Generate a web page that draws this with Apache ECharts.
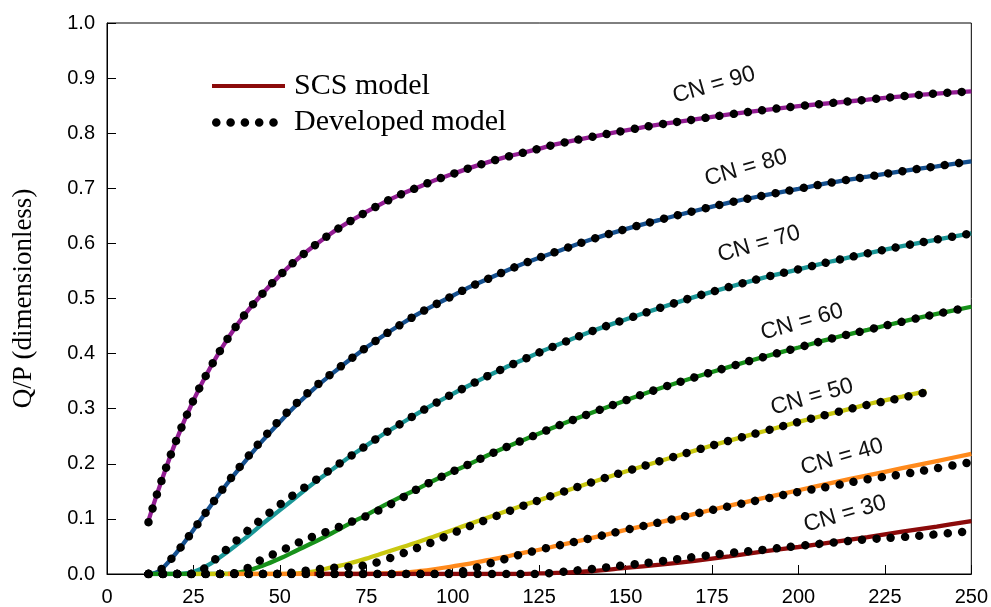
<!DOCTYPE html>
<html><head><meta charset="utf-8">
<script src="https://cdn.jsdelivr.net/npm/echarts@6/dist/echarts.min.js"></script>
<style>html,body{margin:0;padding:0;background:#fff}#c{width:991px;height:607px}</style>
</head><body><div id="c"></div>
<script>
// Rainfall P (x values)
const P = [12,15,20,25,30,35,40,45,50,55,60,65,70,75,80,85,90,95,100,105,110,115,120,125,130,140,150,160,170,180,190,200,210,220,230,240,250];
const P50 = [12,15,20,25,30,35,40,45,50,55,60,65,70,75,80,85,90,95,100,105,110,115,120,125,130,140,150,160,170,180,190,200,210,220,230,237];
const xTicks = [0,25,50,75,100,125,150,175,200,225,250];
const yTicks = [0,0.1,0.2,0.3,0.4,0.5,0.6,0.7,0.8,0.9,1.0];

// SCS model Q/P
const scs90 = [0.097,0.155,0.242,0.315,0.376,0.428,0.472,0.509,0.542, 0.571,0.596,0.619,0.639,0.657,0.674,0.689,0.702,0.715,0.726,0.737,0.747,0.756,0.764,0.772, 0.780,0.793,0.805,0.816,0.825,0.834,0.842,0.849,0.855,0.861,0.867,0.872,0.876];
const scs80 = [0,0.005,0.038,0.080,0.124,0.166,0.205,0.242,0.276, 0.308,0.337,0.363,0.388,0.411,0.433,0.453,0.472,0.489,0.505,0.521,0.535,0.549,0.562,0.574, 0.585,0.607,0.626,0.643,0.659,0.674,0.687,0.699,0.711,0.721,0.731,0.740,0.749];
const scs70 = [0,0,0,0.004,0.019,0.041,0.065,0.091,0.116, 0.141,0.166,0.189,0.212,0.233,0.254,0.273,0.292,0.310,0.327,0.343,0.359,0.374,0.388,0.402, 0.415,0.440,0.462,0.483,0.503,0.521,0.538,0.553,0.568,0.582,0.595,0.607,0.618];
const scs60 = [0,0,0,0,0,0,0.005,0.015,0.028, 0.043,0.058,0.074,0.091,0.107,0.124,0.140,0.155,0.171,0.186,0.200,0.215,0.229,0.242,0.255, 0.268,0.292,0.315,0.337,0.357,0.376,0.394,0.411,0.428,0.443,0.458,0.472,0.485];
const scs50 = [null,null,null,0,0,0,0,0,0, 0.001,0.005,0.012,0.019,0.028,0.038,0.048,0.058,0.069,0.080,0.091,0.102,0.113,0.124,0.134, 0.145,0.166,0.186,0.205,0.224,0.242,0.259,0.276,0.292,0.308,0.322,0.332];
const scs40 = [null,null,null,null,null,0,0,0,0, 0,0,0,0,0,0.001,0.002,0.005,0.009,0.014,0.019,0.025,0.031,0.038,0.044, 0.051,0.065,0.080,0.094,0.109,0.124,0.138,0.152,0.166,0.179,0.192,0.205,0.218];
const scs30 = [null,null,null,null,null,null,null,null,null, null,0,0,0,0,0,0,0,0,0,0,0,0,0,0.001, 0.002,0.005,0.011,0.017,0.024,0.032,0.041,0.049,0.058,0.067,0.077,0.086,0.096];

// Developed model Q/P
const dev90 = [0.094,0.155,0.242,0.315,0.376,0.428,0.472,0.509,0.542, 0.571,0.596,0.619,0.639,0.657,0.674,0.689,0.702,0.715,0.726,0.737,0.747,0.756,0.764,0.772, 0.780,0.793,0.805,0.816,0.825,0.834,0.842,0.849,0.855,0.861,0.867,0.872,0.876];
const dev80 = [0,0.005,0.038,0.080,0.124,0.167,0.207,0.245,0.280, 0.311,0.339,0.364,0.388,0.411,0.433,0.453,0.472,0.489,0.505,0.521,0.535,0.549,0.562,0.574, 0.585,0.607,0.626,0.643,0.659,0.674,0.687,0.699,0.711,0.721,0.731,0.740,0.749];
const dev70 = [0,0,0,0,0.020,0.047,0.075,0.101,0.126, 0.148,0.169,0.191,0.212,0.233,0.254,0.273,0.292,0.310,0.327,0.343,0.359,0.374,0.388,0.402, 0.415,0.440,0.462,0.483,0.503,0.521,0.538,0.553,0.568,0.582,0.595,0.607,0.618];
const dev60 = [0,0,0,0,0,0,0.009,0.027,0.041, 0.056,0.069,0.080,0.093,0.105,0.120,0.137,0.155,0.171,0.186,0.200,0.215,0.229,0.242,0.255, 0.268,0.292,0.315,0.337,0.357,0.376,0.394,0.411,0.428,0.443,0.458,0.472,0.485];
const dev50 = [0,0,0,0,0,0,0,0,0, 0.004,0.008,0.011,0.013,0.016,0.025,0.036,0.048,0.060,0.074,0.087,0.099,0.111,0.123,0.134, 0.145,0.166,0.186,0.205,0.224,0.242,0.259,0.276,0.292,0.307,0.320,0.330];
const dev40 = [0,0,0,0,0,0,0,0,0, 0,0,0,0,0,0,0,0,0,0.002,0.008,0.018,0.027,0.036,0.044, 0.051,0.065,0.080,0.094,0.109,0.123,0.136,0.149,0.160,0.172,0.181,0.192,0.203];
const dev30 = [0,0,0,0,0,0,0,0,0, 0,0,0,0,0,0,0,0,0,0,0,0,0,0,0, 0.003,0.009,0.016,0.023,0.031,0.038,0.044,0.051,0.057,0.063,0.067,0.072,0.078];

const cnNames = ['CN = 90','CN = 80','CN = 70','CN = 60','CN = 50','CN = 40','CN = 30'];
const legendNames = ['SCS model','Developed model'];

const colors = ['#931d93','#15508f','#1a9797','#17911a','#c9c810','#ff8a1c','#8b0a0a'];
const curves = [
  {x:P, scs:scs90, dev:dev90},
  {x:P, scs:scs80, dev:dev80},
  {x:P, scs:scs70, dev:dev70},
  {x:P, scs:scs60, dev:dev60},
  {x:P50, scs:scs50, dev:dev50},
  {x:P, scs:scs40, dev:dev40},
  {x:P, scs:scs30, dev:dev30}
];
function pairs(xs, ys){ return xs.map((x,i)=>[x, ys[i]]).filter(d=>d[1]!==null && d[1]!==undefined); }

const dotStyle = {color:'#000', width:8.5, type:[0.01,14.3], cap:'round'};
const series = [];
curves.forEach((c,i)=>series.push({
  type:'line', name:cnNames[i], data:pairs(c.x,c.scs), smooth:0.35, symbol:'none',
  lineStyle:{color:colors[i], width:4.3}, itemStyle:{color:colors[i]}, z:2, silent:true
}));
curves.forEach((c,i)=>series.push({
  type:'line', name:cnNames[i]+' dev', data:pairs(c.x,c.dev), smooth:0.35, symbol:'none',
  lineStyle:dotStyle, itemStyle:{color:'#000'}, z:3, silent:true
}));
series.push({type:'line', name:legendNames[0], data:[], symbol:'none', lineStyle:{color:'#8b0a0a', width:4}, itemStyle:{color:'#8b0a0a'}});
series.push({type:'line', name:legendNames[1], data:[], symbol:'none', lineStyle:dotStyle, itemStyle:{color:'#000'}});

// legend icons (73 x 16 box; tiny corner marks fix the bounding box)
const box = 'M0,0L0.01,0L0.01,0.01Z M72.99,16L73,16L73,15.99Z ';
const lineIcon = 'path://' + box + 'M0,6H73V10H0Z';
let dotsIcon = 'path://' + box;
[4.3,18.6,32.9,47.2,61.5].forEach(cx=>{
  dotsIcon += 'M' + (cx-4.3) + ',8 a4.3,4.3 0 1,0 8.6,0 a4.3,4.3 0 1,0 -8.6,0 Z ';
});

const labelPos = [[714,85],[746,168],[759,244],[802,322],[812,397],[842,457],[845,514]];
const graphics = cnNames.map((t,i)=>({
  type:'text', x:labelPos[i][0], y:labelPos[i][1], rotation:16*Math.PI/180, silent:true,
  style:{text:t, fontFamily:'Liberation Sans', fontSize:23, fill:'#111', align:'center', verticalAlign:'middle'}
}));

const chart = echarts.init(document.getElementById('c'), null, {renderer:'canvas'});
chart.setOption({
  animation:false,
  backgroundColor:'#fff',
  grid:{left:107, right:19, top:23, bottom:33, show:true, borderColor:'#000', borderWidth:1, backgroundColor:'transparent'},
  legend:{
    orient:'vertical', left:207, top:66, itemWidth:73, itemHeight:16, itemGap:6.5,
    data:[{name:legendNames[0], icon:lineIcon}, {name:legendNames[1], icon:dotsIcon}],
    selectedMode:false,
    itemStyle:{borderWidth:0},
    textStyle:{fontFamily:'Liberation Serif', fontSize:30, color:'#000', padding:[0,0,0,4]}
  },
  xAxis:{
    type:'value', min:xTicks[0], max:xTicks[xTicks.length-1], interval:25,
    axisLine:{lineStyle:{color:'#000', width:1}},
    axisTick:{inside:true, length:9, lineStyle:{color:'#000'}},
    axisLabel:{color:'#000', fontFamily:'Liberation Sans', fontSize:20, margin:13},
    splitLine:{show:false}
  },
  yAxis:{
    type:'value', min:yTicks[0], max:yTicks[yTicks.length-1], interval:0.1,
    name:'Q/P (dimensionless)', nameLocation:'middle', nameGap:70,
    nameTextStyle:{fontFamily:'Liberation Serif', fontSize:27, color:'#000'},
    axisLine:{lineStyle:{color:'#000', width:1}},
    axisTick:{inside:true, length:9, lineStyle:{color:'#000'}},
    axisLabel:{color:'#000', fontFamily:'Liberation Sans', fontSize:20, margin:12, formatter:v=>v.toFixed(1)},
    splitLine:{show:false}
  },
  graphic:graphics,
  series:series
});
</script></body></html>
